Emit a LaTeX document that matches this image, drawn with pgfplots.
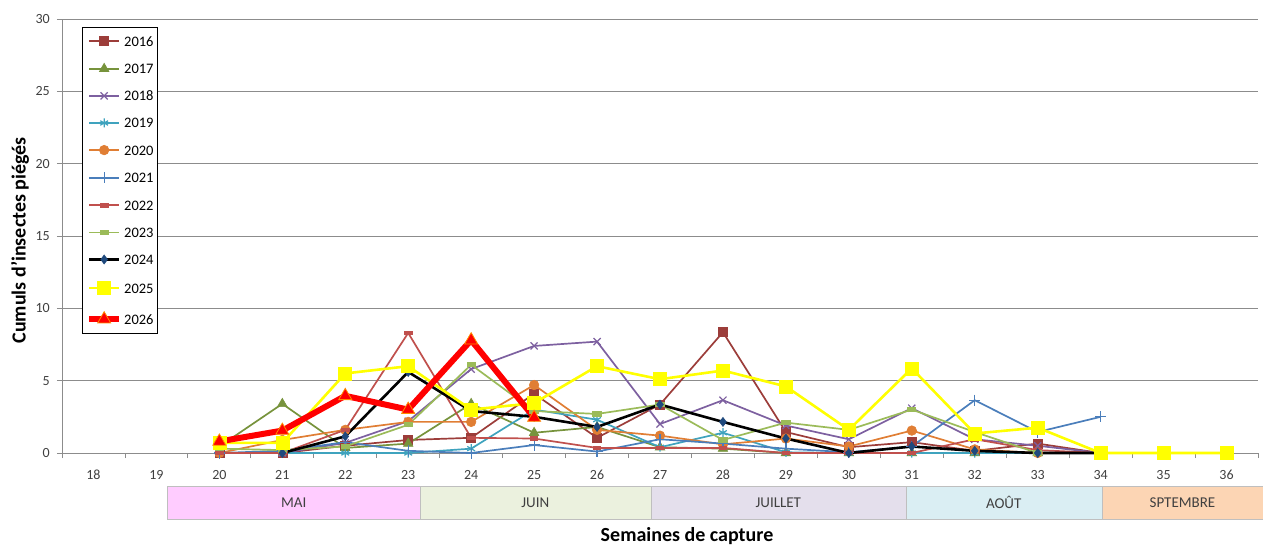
\documentclass[border=0pt]{standalone}
\usepackage{fontspec}
\setmainfont{Carlito}
\usepackage{pgfplots}
\pgfplotsset{compat=1.18}
\definecolor{c16}{HTML}{9C3D3A}
\definecolor{c17}{HTML}{77933C}
\definecolor{c18}{HTML}{7D60A0}
\definecolor{c19}{HTML}{3FA3BE}
\definecolor{c20}{HTML}{E07E34}
\definecolor{c21}{HTML}{4A7EBB}
\definecolor{c22}{HTML}{C0504D}
\definecolor{c23}{HTML}{9BBB59}
\definecolor{c24m}{HTML}{1F497D}
\definecolor{c25}{HTML}{FFFF00}
\definecolor{c26}{HTML}{FF0000}
\definecolor{c26e}{HTML}{FF8C00}
\definecolor{gridc}{HTML}{8C8C8C}
\definecolor{mai}{HTML}{FFCCFF}
\definecolor{juin}{HTML}{EBF1DE}
\definecolor{juil}{HTML}{E4DFEC}
\definecolor{aout}{HTML}{DAEEF3}
\definecolor{sept}{HTML}{FCD5B4}
\definecolor{boxb}{HTML}{BFBFBF}
\definecolor{txt}{HTML}{404040}
\begin{document}
\begin{tikzpicture}
\begin{axis}[
  at={(0,0)}, anchor=south west,
  scale only axis, width=1196pt, height=434pt,
  xmin=17.5, xmax=36.5, ymin=0, ymax=30,
  xtick={18,...,36},
  minor xtick={17.5,18.5,...,36.5},
  ytick={0,5,...,30},
  /pgf/number format/assume math mode=true,
  axis x line*=bottom, axis y line*=left,
  axis line style={draw=gridc, line width=0.8pt, -},
  tick align=outside,
  major tick length=5pt, minor tick length=5pt,
  major x tick style={draw=none},
  minor x tick style={draw=gridc, line width=0.8pt},
  ytick style={draw=gridc, line width=0.8pt},
  ymajorgrids, grid style={draw=gridc, line width=0.8pt},
  tick label style={font=\fontsize{14}{16}\selectfont, text=txt},
  xticklabel style={inner sep=0pt, anchor=north, yshift=-12pt},
  yticklabel style={inner sep=0pt, anchor=east, xshift=-7pt},
  clip=false,
  xlabel={Semaines de capture},
  ylabel={Cumuls d'insectes piégés},
  xlabel style={at={(axis description cs:0.5226,-0.1912)}, anchor=center, font=\bfseries\fontsize{20}{22}\selectfont},
  ylabel style={at={(axis description cs:-0.0351,0.49)}, anchor=center, font=\bfseries\fontsize{20}{22}\selectfont},
  legend image code/.code={\draw[mark repeat=2, mark phase=2, #1] plot coordinates {(0pt,0pt) (15pt,0pt) (30pt,0pt)};},
  legend style={at={(axis description cs:0.0167,0.9816)}, anchor=north west,
    draw=black, fill=white,
    font=\fontsize{14.5}{16}\selectfont,
    nodes={inner sep=0pt, text height=10pt, text depth=0pt},
    row sep=17.1pt, column sep=2pt, inner xsep=4pt, inner ysep=9pt,
    cells={anchor=west}},
  mark options={solid},
]
% month band
\filldraw[fill=mai, draw=boxb] (axis cs:19.168,-2.281) rectangle (axis cs:23.187,-4.562);
\filldraw[fill=juin, draw=boxb] (axis cs:23.187,-2.281) rectangle (axis cs:26.857,-4.562);
\filldraw[fill=juil, draw=boxb] (axis cs:26.857,-2.281) rectangle (axis cs:30.908,-4.562);
\filldraw[fill=aout, draw=boxb] (axis cs:30.908,-2.281) rectangle (axis cs:34.02,-4.562);
\filldraw[fill=sept, draw=boxb] (axis cs:34.02,-2.281) rectangle (axis cs:36.58,-4.562);
\node[font=\fontsize{15}{17}\selectfont, text=txt] at (axis cs:21.18,-3.42) {MAI};
\node[font=\fontsize{15}{17}\selectfont, text=txt] at (axis cs:25.02,-3.42) {JUIN};
\node[font=\fontsize{15}{17}\selectfont, text=txt] at (axis cs:28.88,-3.42) {JUILLET};
\node[font=\fontsize{15}{17}\selectfont, text=txt] at (axis cs:32.46,-3.42) {AOÛT};
\node[font=\fontsize{15}{17}\selectfont, text=txt] at (axis cs:35.30,-3.42) {SPTEMBRE};

\addplot[c16, line width=1.7pt, mark=square*, mark size=4.5pt, mark options={fill=c16, draw=c16, line width=0.6pt}] coordinates {
(20,0) (21,0) (22,0.5) (23,0.9) (24,1.05) (25,4.1) (26,1.05) (27,3.35) (28,8.35) (29,1.45) (30,0.4) (31,0.75) (32,0.15) (33,0.65) (34,0)};
\addlegendentry{2016}
\addplot[c17, line width=1.7pt, mark=triangle*, mark size=5.5pt, mark options={fill=c17, draw=c17, line width=0.6pt}] coordinates {
(20,0.45) (21,3.4) (22,0.35) (23,0.65) (24,3.4) (25,1.4) (26,1.8) (27,0.4) (28,0.3) (29,0) (30,0) (31,0) (32,0) (33,0) (34,0)};
\addlegendentry{2017}
\addplot[c18, line width=1.7pt, mark=x, mark size=5pt, mark options={draw=c18, line width=1.2pt}] coordinates {
(20,0) (21,0) (22,0.7) (23,2.2) (24,5.8) (25,7.4) (26,7.7) (27,2.0) (28,3.65) (29,1.9) (30,0.95) (31,3.1) (32,0.95) (33,0.5) (34,0)};
\addlegendentry{2018}
\addplot[c19, line width=1.7pt, mark=asterisk, mark size=4.5pt, mark options={draw=c19, line width=1.2pt}] coordinates {
(20,0) (21,0) (22,0) (23,0) (24,0.3) (25,3.0) (26,2.3) (27,0.4) (28,1.4) (29,0.05) (30,0) (31,0) (32,0) (33,0) (34,0)};
\addlegendentry{2019}
\addplot[c20, line width=1.7pt, mark=*, mark size=4.8pt, mark options={fill=c20, draw=c20, line width=0.6pt}] coordinates {
(20,0) (21,0.9) (22,1.6) (23,2.15) (24,2.15) (25,4.7) (26,1.6) (27,1.2) (28,0.6) (29,1.0) (30,0.45) (31,1.55) (32,0.25) (33,0) (34,0)};
\addlegendentry{2020}
\addplot[c21, line width=1.7pt, mark=+, mark size=5.5pt, mark options={draw=c21, line width=1.2pt}] coordinates {
(20,0) (21,0.15) (22,0.75) (23,0.15) (24,0) (25,0.55) (26,0.1) (27,0.95) (28,0.65) (29,0.3) (30,0.05) (31,0.45) (32,3.65) (33,1.45) (34,2.5)};
\addlegendentry{2021}
\addplot[c22, line width=1.7pt, mark=square*, mark size=3.5pt, mark options={fill=c22, draw=c22, yscale=0.4}] coordinates {
(20,0) (21,0) (22,1.6) (23,8.3) (24,1.05) (25,1.0) (26,0.35) (27,0.35) (28,0.35) (29,0) (30,0) (31,0) (32,0.95) (33,0.2) (34,0)};
\addlegendentry{2022}
\addplot[c23, line width=1.7pt, mark=square*, mark size=3.8pt, mark options={fill=c23, draw=c23, yscale=0.45}] coordinates {
(20,0.3) (21,0.2) (22,0.45) (23,1.95) (24,6.1) (25,2.9) (26,2.7) (27,3.35) (28,0.9) (29,2.1) (30,1.6) (31,3.0) (32,1.45) (33,0) (34,0)};
\addlegendentry{2023}
\addplot[black, line width=2.6pt, mark=diamond*, mark size=4.5pt, mark options={fill=c24m, draw=c24m, line width=0.6pt}] coordinates {
(21,0) (22,1.15) (23,5.6) (24,2.9) (25,2.5) (26,1.8) (27,3.35) (28,2.15) (29,1.0) (30,0) (31,0.45) (32,0.15) (33,0) (34,0)};
\addlegendentry{2024}
\addplot[c25, line width=2.6pt, mark=square*, mark size=6.5pt, mark options={fill=c25, draw=c25, line width=0.6pt}] coordinates {
(20,0.7) (21,0.7) (22,5.5) (23,6.0) (24,3.0) (25,3.45) (26,6.0) (27,5.1) (28,5.7) (29,4.6) (30,1.6) (31,5.85) (32,1.35) (33,1.75) (34,0) (35,0) (36,0)};
\addlegendentry{2025}
\addplot[c26, line width=6pt, mark=triangle*, mark size=7.5pt, mark options={fill=c26, draw=c26e, line width=0.8pt}] coordinates {
(20,0.8) (21,1.55) (22,3.95) (23,3.0) (24,7.8) (25,2.45)};
\addlegendentry{2026}
\end{axis}
\pgfresetboundingbox
\path[use as bounding box] (-62pt,-93pt) rectangle (1201pt,453pt);
\end{tikzpicture}
\end{document}
